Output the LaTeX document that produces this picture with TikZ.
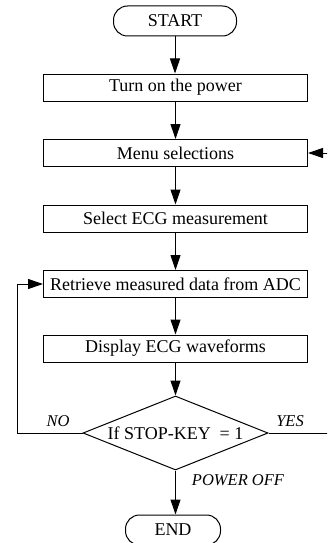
\documentclass[tikz,border=0pt]{standalone}
\usepackage{fontspec}
\setmainfont{Liberation Serif}
\usetikzlibrary{shapes.geometric,arrows.meta}

\tikzset{
  every picture/.style={line width=1pt},
  procbox/.style={draw, rectangle, minimum width=264pt, minimum height=27pt,
    inner sep=0pt, font=\fontsize{18}{20}\selectfont},
  terminal/.style={draw, rectangle, rounded corners=14pt, minimum height=30pt,
    inner sep=0pt, font=\fontsize{18}{20}\selectfont},
  decision/.style={draw, diamond, aspect=2.5, minimum width=185pt,
    minimum height=74pt, inner sep=0pt, font=\fontsize{18}{20}\selectfont},
  flow/.style={-{Triangle[length=15pt,width=10pt]}},
  branch/.style={font=\fontsize{16.5}{19}\selectfont\itshape},
}

\begin{document}
\begin{tikzpicture}[x=1pt,y=-1pt]
  \useasboundingbox (0,0) rectangle (327,543);
  \clip (0,0) rectangle (327,543);

  % flowchart steps
  \node[terminal, minimum width=123pt] (start) at (175,21) {START};
  \node[procbox] (power)    at (175.5,87.5)  {Turn on the power};
  \node[procbox] (menu)     at (175.5,153)   {Menu selections};
  \node[procbox] (select)   at (175.5,218.5) {Select ECG measurement};
  \node[procbox] (retrieve) at (175.5,284)   {Retrieve measured data from ADC};
  \node[procbox] (display)  at (175.5,348.5) {Display ECG waveforms};
  \node[decision] (stop)    at (175.5,433)   {If STOP-KEY\ \ = 1};
  \node[terminal, minimum width=95pt] (end) at (173,530) {END};

  % main sequence (vertical spine)
  \draw[flow] (start) -- (start |- power.north);
  \draw[flow] (power) -- (menu);
  \draw[flow] (menu) -- (select);
  \draw[flow] (select) -- (retrieve);
  \draw[flow] (retrieve) -- (display);
  \draw[flow] (display) -- (stop);
  \draw[flow] (stop.south) -- (stop.south |- end.north);

  % NO: loop back to data acquisition
  \coordinate (loopx) at (17,0);
  \draw[flow] (stop.west) -- (loopx |- stop.west) -- (loopx |- retrieve.west) -- (retrieve.west);

  % YES: back to the menu along the right side
  \coordinate (rightx) at (330,0);
  \draw (stop.east) -- (rightx |- stop.east);
  \draw[flow] (rightx |- menu.east) -- (menu.east);

  % branch labels
  \node[branch] (nolbl)  at (58,421)  {NO};
  \node[branch] (yeslbl) at (290,421) {YES};
  \node[branch] (offlbl) at (238,480) {POWER OFF};
\end{tikzpicture}
\end{document}
